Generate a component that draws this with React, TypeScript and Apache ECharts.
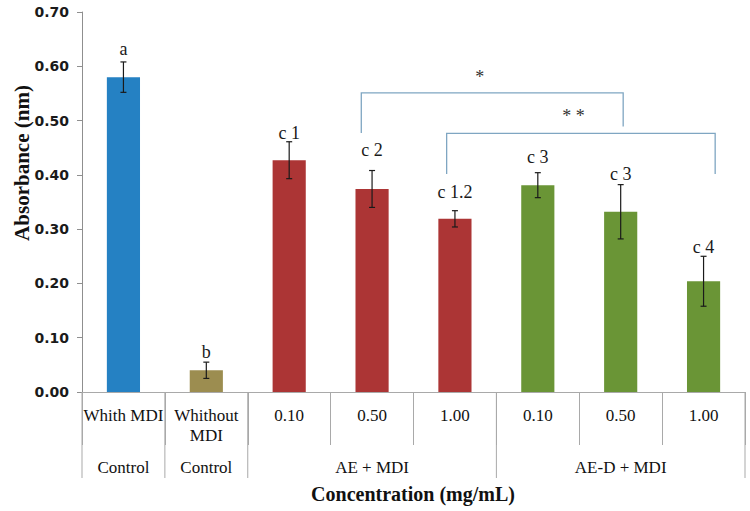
import React, { useEffect, useRef } from "react";
import * as echarts from "echarts";

// ---- data ----
const categories = ["Whith MDI", "Whithout\nMDI", "0.10", "0.50", "1.00", "0.10", "0.50", "1.00"];
const treatment = ["with", "without", "AE", "AE", "AE", "AED", "AED", "AED"];
const means = [0.58, 0.04, 0.427, 0.374, 0.319, 0.381, 0.332, 0.204];
const errors = [0.028, 0.015, 0.034, 0.034, 0.015, 0.023, 0.05, 0.046];
const letters = ["a", "b", "c 1", "c 2", "c 1.2", "c 3", "c 3", "c 4"];
const letterHeights = [0.632, 0.074, 0.477, 0.446, 0.369, 0.433, 0.402, 0.267];

const groupLabels = ["Control", "Control", "AE + MDI", "AE-D + MDI"];
const groupStart = [0, 1, 2, 5];
const groupEnd = [0, 1, 4, 7];

// significance brackets (x in category units, y in absorbance units)
const bracketFrom = [2.87, 3.9];
const bracketTo = [6.03, 7.14];
const bracketTop = [0.551, 0.4765];
const bracketLeftFoot = [0.477, 0.4015];
const bracketRightFoot = [0.489, 0.4015];
const bracketMarks = ["*", "* *"];
const markX = [4.3, 5.43];
const markY = [0.581, 0.509];

const yMin = 0;
const yMax = 0.7;
const yStep = 0.1;

// ---- styles ----
const palette: Record<string, string> = {
  with: "#2581C3",
  without: "#9C8D50",
  AE: "#AC3535",
  AED: "#6A9536",
};
const SERIF = "'Liberation Serif', 'Times New Roman', serif";
const GRID_LINE = "#a9a9a9";

export default function App() {
  const ref = useRef<HTMLDivElement>(null);

  useEffect(() => {
    if (!ref.current) return;
    const chart = echarts.init(ref.current, undefined, { renderer: "svg" });

    const option: any = {
      animation: false,
      backgroundColor: "#ffffff",
      grid: { left: 82, right: 5, top: 12, bottom: 119, containLabel: false },
      xAxis: {
        type: "category",
        data: categories,
        boundaryGap: true,
        axisLine: { show: true, lineStyle: { color: GRID_LINE, width: 1 } },
        axisTick: {
          show: true,
          interval: 0,
          alignWithLabel: false,
          length: 53,
          lineStyle: { color: GRID_LINE, width: 1 },
        },
        axisLabel: {
          interval: 0,
          margin: 13,
          fontFamily: SERIF,
          fontSize: 17,
          lineHeight: 20,
          color: "#111111",
        },
        splitLine: { show: false },
      },
      yAxis: {
        type: "value",
        min: yMin,
        max: yMax,
        interval: yStep,
        axisLine: { show: true, lineStyle: { color: "#8f8f8f", width: 1 } },
        axisTick: { show: true, length: 5, lineStyle: { color: "#8f8f8f" } },
        axisLabel: {
          margin: 13,
          fontFamily: "'DejaVu Sans', sans-serif",
          fontWeight: "bold",
          fontSize: 14,
          color: "#1a1a1a",
          formatter: (v: number) => v.toFixed(2),
        },
        splitLine: { show: false },
      },
      graphic: [
        {
          type: "text",
          x: 22,
          y: 163,
          rotation: Math.PI / 2,
          style: {
            text: "Absorbance (nm)",
            fontFamily: SERIF,
            fontWeight: "bold",
            fontSize: 21,
            fill: "#111111",
            align: "center",
            verticalAlign: "middle",
          },
        },
        {
          type: "text",
          x: 413,
          y: 494,
          style: {
            text: "Concentration (mg/mL)",
            fontFamily: SERIF,
            fontWeight: "bold",
            fontSize: 20,
            fill: "#111111",
            align: "center",
            verticalAlign: "middle",
          },
        },
      ],
      series: [
        {
          type: "bar",
          barWidth: "40%",
          data: means.map((v, i) => ({ value: v, itemStyle: { color: palette[treatment[i]] } })),
          z: 2,
        },
        {
          type: "custom",
          clip: false,
          z: 10,
          data: means.map((m, i) => [i, m - errors[i], m + errors[i]]),
          encode: { x: 0, y: [1, 2] },
          renderItem: (params: any, api: any) => {
            const i = params.dataIndex;
            const lo = api.coord([i, api.value(1)]);
            const hi = api.coord([i, api.value(2)]);
            const lab = api.coord([i, letterHeights[i]]);
            const cap = 3;
            const ls = { stroke: "#1a1a1a", lineWidth: 1.2 };
            return {
              type: "group",
              children: [
                { type: "line", shape: { x1: hi[0], y1: hi[1], x2: lo[0], y2: lo[1] }, style: ls },
                { type: "line", shape: { x1: hi[0] - cap, y1: hi[1], x2: hi[0] + cap, y2: hi[1] }, style: ls },
                { type: "line", shape: { x1: lo[0] - cap, y1: lo[1], x2: lo[0] + cap, y2: lo[1] }, style: ls },
                {
                  type: "text",
                  x: lab[0],
                  y: lab[1],
                  style: {
                    text: letters[i],
                    fontFamily: SERIF,
                    fontSize: 18,
                    fill: "#1a1a1a",
                    align: "center",
                    verticalAlign: "middle",
                  },
                },
              ],
            };
          },
        },
        {
          type: "custom",
          clip: false,
          z: 5,
          silent: true,
          data: groupStart.map((s) => [s, 0]),
          encode: { x: 0, y: 1 },
          renderItem: (params: any, api: any) => {
            const g = params.dataIndex;
            const band = api.size([1, 0])[0];
            const c0 = api.coord([groupStart[g], 0]);
            const c1 = api.coord([groupEnd[g], 0]);
            const left = c0[0] - band / 2;
            const right = c1[0] + band / 2;
            const y0 = c0[1];
            const ls = { stroke: GRID_LINE, lineWidth: 1 };
            const children: any[] = [
              { type: "line", shape: { x1: left, y1: y0, x2: left, y2: y0 + 86 }, style: ls },
              {
                type: "text",
                x: (left + right) / 2,
                y: y0 + 75,
                style: {
                  text: groupLabels[g],
                  fontFamily: SERIF,
                  fontSize: 17,
                  fill: "#111111",
                  align: "center",
                  verticalAlign: "middle",
                },
              },
            ];
            if (g === groupStart.length - 1) {
              children.push({ type: "line", shape: { x1: right, y1: y0, x2: right, y2: y0 + 86 }, style: ls });
            }
            return { type: "group", children };
          },
        },
        {
          type: "custom",
          clip: false,
          z: 6,
          silent: true,
          data: bracketTop.map((t) => [0, t]),
          encode: { x: 0, y: 1 },
          renderItem: (params: any, api: any) => {
            const b = params.dataIndex;
            const band = api.size([1, 0])[0];
            const base = api.coord([0, 0])[0];
            const xl = base + bracketFrom[b] * band;
            const xr = base + bracketTo[b] * band;
            const yt = api.coord([0, bracketTop[b]])[1];
            const yl = api.coord([0, bracketLeftFoot[b]])[1];
            const yr = api.coord([0, bracketRightFoot[b]])[1];
            const mx = base + markX[b] * band;
            const my = api.coord([0, markY[b]])[1];
            return {
              type: "group",
              children: [
                {
                  type: "polyline",
                  shape: { points: [[xl, yl], [xl, yt], [xr, yt], [xr, yr]] },
                  style: { stroke: "#7FA6C2", lineWidth: 1.3, fill: "none" },
                },
                {
                  type: "text",
                  x: mx,
                  y: my,
                  style: {
                    text: bracketMarks[b],
                    fontFamily: SERIF,
                    fontSize: 18,
                    fill: "#333333",
                    align: "center",
                    verticalAlign: "middle",
                  },
                },
              ],
            };
          },
        },
      ],
    };

    chart.setOption(option);
    return () => chart.dispose();
  }, []);

  return (
    <div
      ref={ref}
      style={{ position: "absolute", left: 0, top: 0, width: 750, height: 511, background: "#fff" }}
    />
  );
}
